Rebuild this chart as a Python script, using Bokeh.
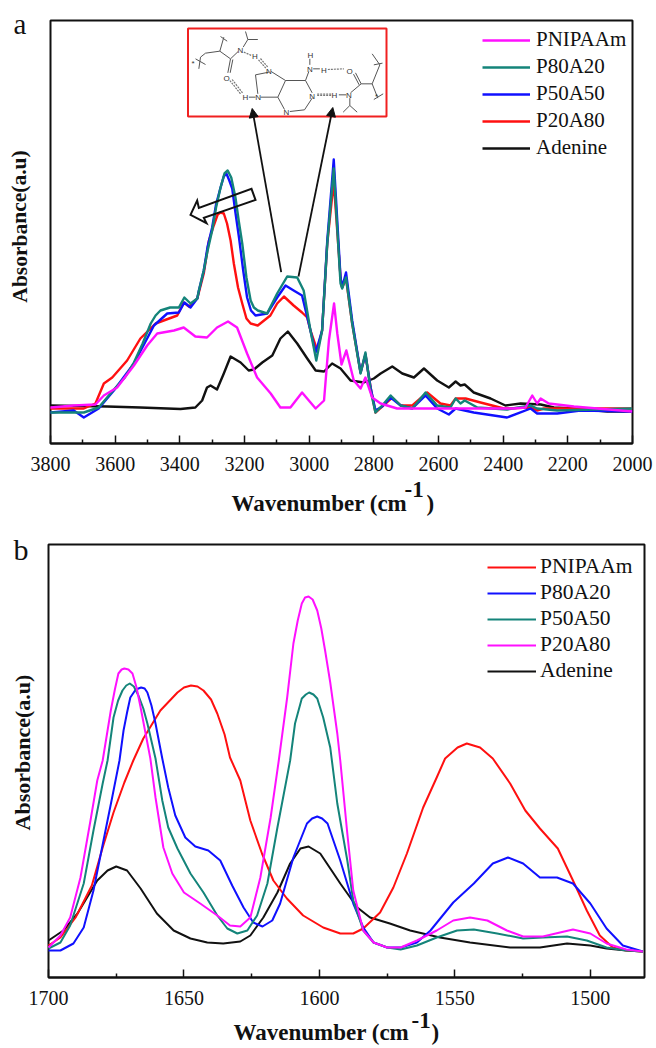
from bokeh.plotting import figure
from bokeh.models import Range1d, FixedTicker, Label, Legend, LegendItem, Arrow, NormalHead
from bokeh.layouts import column
from bokeh.embed import file_html
from bokeh.resources import INLINE

SERIES = ["PNIPAAm", "P80A20", "P50A50", "P20A80", "Adenine"]
MAGENTA, TEAL, BLUE, RED, BLACK = "#ff10ff", "#14847a", "#1010ff", "#ff1010", "#111111"

# Panel a
a_adenine_wn = [3800,3625,3522,3398,3352,3331,3316,3305,3285,3264,3243,3212,3187,3171,3145,3114,3089,3066,3037,3006,2980,2954,2929,2903,2872,2831,2800,2779,2743,2712,2676,2645,2604,2568,2547,2532,2519,2491,2439,2393,2346,2284,2243,2181,2078,2001]
a_adenine_abs = [38,37,36,34.5,36,43,56,58,54,70,87,81,73,74,81,88,105,112,100,85,73,72,80,75,63,61,65,70,77,70,66,75,63,56,62,58,59,51,45,38,40,39,36,35,32,32]
a_pnipaam_wn = [3800,3728,3661,3635,3594,3542,3501,3470,3418,3388,3352,3316,3285,3251,3223,3192,3161,3119,3089,3058,3022,2980,2954,2939,2923,2913,2900,2885,2862,2841,2826,2805,2779,2728,2594,2367,2331,2310,2295,2284,2259,2181,2001]
a_pnipaam_abs = [36,38,39,48,56,78,98,110,113,116,107,106,116,122,116,90,66,50,36,36,51,35,43,103,140,110,79,93,63,55,66,46,40,35,35,35,36,48,40,45,40,37,32]
a_p20a80_wn = [3800,3697,3661,3635,3609,3563,3522,3475,3408,3388,3372,3346,3326,3310,3295,3283,3274,3264,3254,3243,3233,3220,3207,3194,3181,3159,3120,3099,3078,3048,3022,3006,2996,2975,2960,2944,2924,2903,2898,2886,2867,2841,2826,2810,2795,2743,2717,2681,2635,2594,2563,2547,2516,2470,2398,2315,2295,2274,2202,2001]
a_p20a80_abs = [35,35,40,60,66,83,105,120,128,141,137,145,170,203,218,229,231,230,220,203,180,156,140,125,120,118,128,140,147,138,131,126,113,93,113,200,262,166,156,165,120,71,89,56,31,46,38,38,51,40,38,45,45,41,35,36,33,35,35,35]
a_p50a50_wn = [3800,3728,3697,3651,3604,3542,3480,3439,3403,3386,3367,3346,3341,3326,3314,3300,3288,3274,3264,3256,3247,3238,3228,3217,3204,3192,3180,3166,3130,3099,3073,3048,3022,2996,2980,2960,2944,2924,2903,2898,2886,2867,2841,2826,2810,2795,2774,2748,2717,2681,2640,2604,2568,2547,2491,2388,2315,2295,2233,2161,2001]
a_p50a50_abs = [31,33,26,35,53,80,118,130,131,141,136,145,153,173,197,216,239,256,267,270,263,255,231,206,173,146,133,128,130,146,158,153,148,113,91,113,203,284,166,156,171,123,71,89,56,33,37,46,38,35,48,35,29,35,31,26,35,30,30,33,32]
a_p80a20_wn = [3800,3697,3651,3604,3570,3542,3515,3490,3475,3460,3430,3403,3386,3367,3346,3341,3326,3314,3300,3288,3274,3262,3252,3241,3228,3218,3207,3194,3181,3171,3159,3130,3099,3068,3037,3017,2996,2978,2960,2944,2924,2903,2898,2886,2867,2841,2826,2810,2795,2774,2748,2717,2681,2640,2604,2563,2547,2532,2519,2480,2388,2315,2295,2233,2001]
a_p80a20_abs = [31,31,36,54,66,81,100,120,128,133,136,136,146,140,145,153,173,193,213,236,256,270,273,266,246,223,200,166,143,136,133,130,150,167,166,153,113,83,113,200,275,160,155,166,120,70,91,53,31,38,48,38,35,51,38,36,45,40,43,36,34,38,35,33,35]

# Panel b
b_pnipaam_wn = [1700,1695.6,1690,1684,1680,1676,1672,1668.7,1665,1658.7,1652.4,1650,1647.4,1645,1642.8,1640,1637.7,1635,1633,1629.2,1625.5,1621.2,1617,1612,1606,1598.6,1592.3,1587.5,1583.8,1577.6,1572.7,1567.7,1561.7,1556.7,1553.6,1549,1545.6,1540.7,1536,1529.6,1524,1518.6,1512,1506.4,1501.3,1496.5,1491.7,1486.7,1480.6]
b_pnipaam_abs = [32,40,60,92,130,165,195,217,239,267,285,290,292,291,287,278,264,243,220,197,157,124,97,79,62,50,44,44,49,65,90,124,170,200,219,230,234,230,219,194,167,149,129,97,67,42,30,27,26]
b_p80a20_wn = [1700,1695.6,1690.8,1687,1683.4,1679.7,1676.5,1673.8,1672.3,1671,1669.8,1667.8,1665.8,1664.5,1663.5,1662,1660.5,1658,1655.8,1653.2,1649.5,1645.8,1641,1636.6,1632.2,1628,1624.4,1621,1617.4,1614.5,1609.6,1604.6,1602.7,1600.8,1599,1597,1592.3,1587.5,1583.8,1580,1575,1570,1564,1559,1550.6,1543,1536,1530.4,1524.8,1518.6,1512.3,1506.4,1500,1494,1488,1480.6]
b_p80a20_abs = [27,27,34,50,87,137,180,217,247,265,280,288,290,289,285,272,254,219,190,162,140,131,127,117,92,70,55,51,57,74,120,154,159,161,159,154,117,74,50,35,30,30,35,47,75,94,114,120,114,100,100,94,74,49,32,26]
b_p50a50_wn = [1700,1695.6,1692,1687,1683.4,1680,1678.2,1676,1674.3,1672.7,1671.3,1670,1668.5,1666.8,1665,1663.5,1660.5,1658,1655.8,1652.4,1647.6,1642.8,1637.7,1634,1630.3,1626.6,1623,1619.2,1615.5,1610.8,1609,1606.5,1605,1603.8,1602.2,1600.8,1598.6,1596,1593.4,1589.7,1587.5,1583.8,1580,1575,1570,1564,1556.7,1549.2,1543,1534.4,1524.8,1517.5,1508.6,1501.3,1494,1486.7,1480.6]
b_p50a50_abs = [29,35,52,94,147,194,217,260,277,287,292,294,291,282,269,254,219,177,150,129,104,85,62,49,44,47,62,94,150,217,254,279,283,285,283,279,260,230,174,117,77,47,35,30,28,32,40,47,48,44,39,40,41,37,30,27,26]
b_p20a80_wn = [1700,1695.6,1692,1688.2,1684.5,1682,1680,1677,1675.5,1674.2,1673,1672,1670.5,1669,1667.5,1666,1662.4,1660.5,1657.6,1654.3,1650,1644,1637.7,1633,1629.2,1625.5,1621.8,1618,1615,1611.9,1609.6,1608,1606.5,1605.3,1604,1602.5,1600.8,1599.3,1597.9,1596,1593.4,1592.3,1589.7,1587.5,1583.8,1580,1575,1570,1564,1556.7,1550.6,1544.4,1538,1530.8,1524.8,1517.5,1511.2,1506.4,1500,1494,1486.7,1480.6]
b_p20a80_abs = [30,42,60,100,157,197,217,267,288,304,308,309,308,304,290,270,219,180,130,104,85,74,62,52,51,60,100,160,217,280,334,357,374,380,381,378,367,349,327,295,244,217,144,87,47,35,30,30,37,47,57,60,57,47,41,41,45,48,44,34,28,26]
b_adenine_wn = [1700,1694.5,1689.3,1682,1678.2,1675,1671,1666,1660,1653.8,1647.6,1641.4,1635.5,1629.2,1625.5,1620.7,1615.5,1610.8,1607,1604,1599.7,1595,1592.3,1586,1581.3,1574,1566.5,1555.5,1544.4,1529.6,1518.6,1508.6,1500,1494,1486.7,1480.6]
b_adenine_abs = [37,47,64,97,107,111,107,89,64,47,39,35,34,36,42,60,85,114,129,131,124,105,94,70,60,54,47,40,35,30,30,34,32,29,27,26]

major_a = [3800,3600,3400,3200,3000,2800,2600,2400,2200,2000]
minor_a = [3700,3500,3300,3100,2900,2700,2500,2300,2100]
major_b = [1700,1650,1600,1550,1500]
minor_b = [1675,1625,1575,1525]

SERIF = "Liberation Serif"
INK = "#111111"
W = 654

def make(height, x0, x1, L, R, page_top, B, T, major, minor):
    # the frame fills the whole canvas so that annotations outside the box stay visible
    wn = lambda px: x0 - (px - L) * (x0 - x1) / (R - L)
    h = lambda py: B - py
    p = figure(width=W, height=height, x_range=Range1d(wn(0), wn(W)),
               y_range=Range1d(h(page_top + height), h(page_top)),
               output_backend="svg", toolbar_location=None,
               min_border_left=0, min_border_right=0, min_border_top=0, min_border_bottom=0)
    p.grid.visible = False
    p.yaxis.visible = False
    p.outline_line_alpha = 0
    ax = p.xaxis[0]
    ax.fixed_location = 0
    ax.bounds = (x1, x0)
    ax.ticker = FixedTicker(ticks=major, minor_ticks=minor)
    ax.axis_line_color = INK
    ax.axis_line_width = 2
    ax.major_tick_in = 8
    ax.major_tick_out = 0
    ax.minor_tick_in = 4
    ax.minor_tick_out = 0
    ax.major_tick_line_width = 1.5
    ax.minor_tick_line_width = 1.5
    ax.major_tick_line_color = INK
    ax.minor_tick_line_color = INK
    ax.major_label_text_font = SERIF
    ax.major_label_text_font_size = "20px"
    ax.major_label_text_color = INK
    ax.major_label_standoff = 13
    p.quad(left=[x0], right=[x1], bottom=[0], top=[B - T], fill_alpha=0, line_color=INK, line_width=2)
    return p, wn, h

def txt(p, x, y, s, size, bold=False, angle=0, align="left", color=INK, font=SERIF):
    p.add_layout(Label(x=x, y=y, text=s, text_font=font, text_font_size=f"{size}px",
                       text_font_style="bold" if bold else "normal", angle=angle,
                       text_align=align, text_baseline="alphabetic", text_color=color))

def legend(p, items, x, y, size, gw, standoff, spacing):
    lg = Legend(items=[LegendItem(label=l, renderers=[r]) for l, r in items], location=(x, y),
                orientation="vertical", border_line_alpha=0, background_fill_alpha=0,
                glyph_width=gw, glyph_height=20, label_height=20, label_standoff=standoff, spacing=spacing,
                padding=0, margin=0, label_text_font=SERIF, label_text_font_size=f"{size}px",
                label_text_color=INK)
    p.add_layout(lg)

# ---- Panel a
pa, ax_, ay_ = make(520, 3800, 2000, 50, 632, 0, 443, 20, major_a, minor_a)

w = 2.4
r_ab = pa.line(a_adenine_wn, a_adenine_abs, line_color=BLACK, line_width=w, line_join="round")
r_r = pa.line(a_p20a80_wn, a_p20a80_abs, line_color=RED, line_width=w, line_join="round")
r_b = pa.line(a_p50a50_wn, a_p50a50_abs, line_color=BLUE, line_width=w, line_join="round")
r_t = pa.line(a_p80a20_wn, a_p80a20_abs, line_color=TEAL, line_width=w, line_join="round")
r_m = pa.line(a_pnipaam_wn, a_pnipaam_abs, line_color=MAGENTA, line_width=w, line_join="round")
legend(pa, list(zip(SERIES, [r_m, r_t, r_b, r_r, r_ab])), 482, 360, 21, 48, 6, 2)

# structure inset
zx = lambda v: ax_(170 + v / 3)
zy = lambda v: ay_(15 + v / 3)
bonds = [(90,125,85,160),(75,130,105,147),(90,125,105,113),(105,113,148,107),(148,107,160,65),(150,63,170,77),
         (148,107,180,130),(180,130,203,108),(180,130,172,172),(187,132,179,172),(218,95,232,72),(232,72,262,72),(232,72,225,48),
         (295,170,255,178),(255,178,262,235),(270,245,322,245),(322,245,345,195),(345,195,302,168),
         (345,195,405,195),(405,195,425,232),(425,248,402,283),(402,283,358,288),(342,282,322,245),
         (405,195,415,168),(418,148,418,130),(428,160,448,160),
         (555,172,572,205),(549,176,566,208),(572,205,605,205),(605,205,628,148),(628,148,605,115),(610,148,636,143),
         (605,205,622,248),(610,252,638,235),(572,205,540,232),(538,248,538,270),(538,270,518,290),(538,270,560,290),(505,238,527,238),(235,245,255,245)]
pa.multi_line([[zx(a), zx(c)] for a, b, c, d in bonds], [[zy(b), zy(d)] for a, b, c, d in bonds],
              line_color="#555555", line_width=1)
hbonds = [(220,110,243,120),(264,133,288,160),(270,129,293,156),(178,195,210,235),(185,192,216,232),(472,162,520,160),(440,236,482,236),(440,240,482,240)]
pa.multi_line([[zx(a), zx(c)] for a, b, c, d in hbonds], [[zy(b), zy(d)] for a, b, c, d in hbonds],
              line_color="#777777", line_width=1.2, line_dash="2 1")
atoms = [("N",210,103),("H",253,122),("N",295,165),("O",168,188),("H",225,245),("N",263,245),("N",348,288),("N",425,240),
         ("N",418,160),("H",420,118),("H",460,162),("O",537,165),("H",492,238),("N",535,238),("*",68,143),("*",618,240)]
for s, a, b in atoms:
    pa.add_layout(Label(x=zx(a), y=zy(b) - 0.5, text=s, text_font="Liberation Sans", text_font_size="8px",
                        text_align="center", text_color="#333333", text_baseline="alphabetic"))

pa.quad(left=[ax_(187.5)], right=[ax_(386)], top=[ay_(28)], bottom=[ay_(116)], fill_alpha=0, line_color="#f02020", line_width=2)

head = lambda: NormalHead(size=9, fill_color=INK, line_color=INK, line_width=1)
pa.add_layout(Arrow(end=head(), x_start=ax_(280.7), y_start=ay_(271.7), x_end=ax_(251.7), y_end=ay_(108),
                    line_color=INK, line_width=1.8))
pa.add_layout(Arrow(end=head(), x_start=ax_(298), y_start=ay_(276), x_end=ax_(332.3), y_end=ay_(107),
                    line_color=INK, line_width=1.8))

blk = [(60,253),(80,210),(85,232),(243,175),(255,208),(100,262),(108,278)]
pa.patch([ax_(170 + a / 3) for a, b in blk], [ay_(130 + b / 3) for a, b in blk], fill_alpha=0,
         line_color=INK, line_width=2, line_join="miter")

txt(pa, ax_(13), ay_(23), "a", 29)
txt(pa, ax_(19), ay_(226), "Absorbance(a.u)", 21.5, bold=True, angle=1.5708, align="center")
txt(pa, ax_(231), ay_(503), "Wavenumber (cm", 23, bold=True)
txt(pa, ax_(404), ay_(489), "-1", 23, bold=True)
txt(pa, ax_(426), ay_(503), ")", 23, bold=True)

# ---- Panel b
pb, bx_, by_ = make(526, 1700, 1480, 48, 644, 520, 977, 544, major_b, minor_b)

w = 2.0
s_ab = pb.line(b_adenine_wn, b_adenine_abs, line_color=BLACK, line_width=w, line_join="round")
s_r = pb.line(b_pnipaam_wn, b_pnipaam_abs, line_color=RED, line_width=w, line_join="round")
s_b = pb.line(b_p80a20_wn, b_p80a20_abs, line_color=BLUE, line_width=w, line_join="round")
s_t = pb.line(b_p50a50_wn, b_p50a50_abs, line_color=TEAL, line_width=w, line_join="round")
s_m = pb.line(b_p20a80_wn, b_p20a80_abs, line_color=MAGENTA, line_width=w, line_join="round")
legend(pb, list(zip(SERIES, [s_r, s_b, s_t, s_m, s_ab])), 487, 363, 21.5, 49, 4, 1)

txt(pb, bx_(13), by_(549), "b", 30)
txt(pb, bx_(22), by_(752), "Absorbance(a.u)", 22, bold=True, angle=1.5708, align="center")
txt(pb, bx_(233), by_(1032), "Wavenumber (cm", 23, bold=True)
txt(pb, bx_(411), by_(1020), "-1", 23, bold=True)
txt(pb, bx_(431), by_(1032), ")", 23, bold=True)

layout = column(pa, pb, spacing=0)
open("out.html", "w").write(file_html(layout, INLINE))
